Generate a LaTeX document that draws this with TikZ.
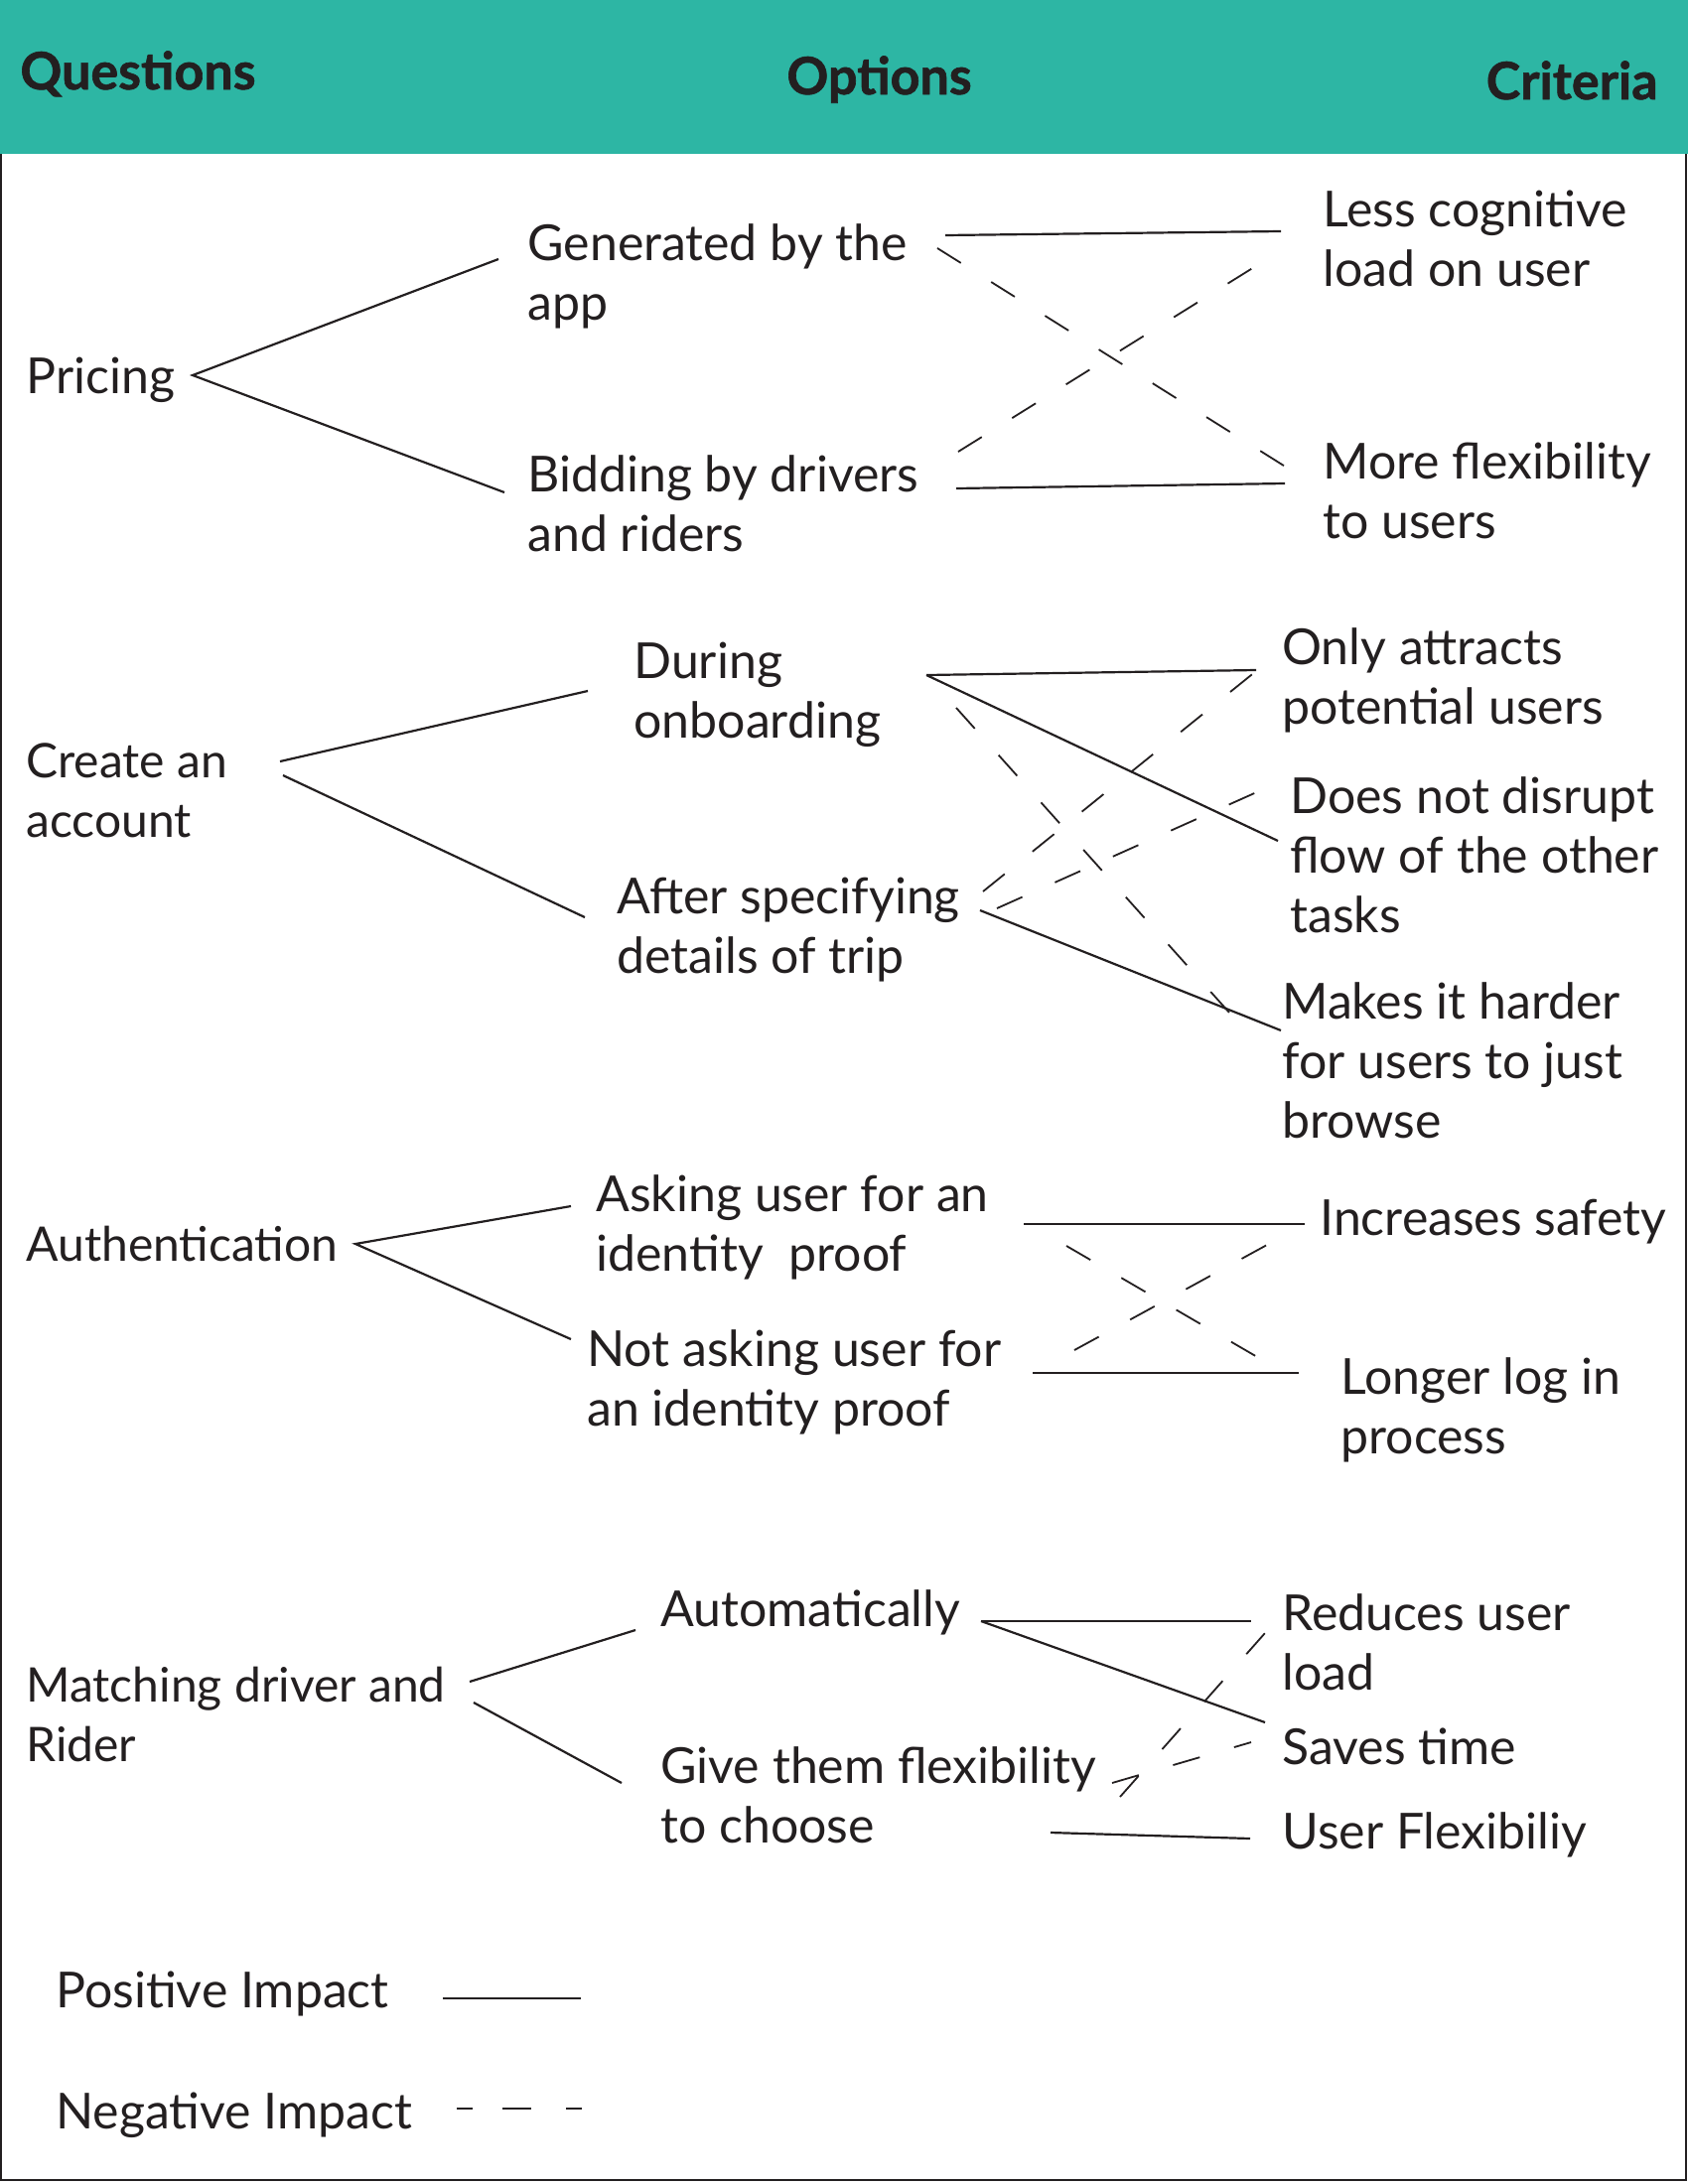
\documentclass[tikz,border=0pt]{standalone}
\usepackage{fontspec}
\setmainfont{Lato}
\newfontfamily\heavyfont{Lato}[BoldFeatures={FakeBold=1.2}]
\definecolor{hdrteal}{RGB}{45,182,164}
\definecolor{ink}{RGB}{35,31,32}
\tikzset{
  txt/.style={anchor=base west, inner sep=0pt, align=left, text=ink,
    font=\fontsize{25}{30}\selectfont},
  qtxt/.style={txt, font=\fontsize{24}{30}\selectfont},
  hdr/.style={anchor=base west, inner sep=0pt, text=ink,
    font=\heavyfont\fontsize{26}{30}\selectfont\bfseries},
  posline/.style={draw=ink, line width=1.1pt},
  negline/.style={draw=ink, line width=0.9pt, dash pattern=on 14pt off 18pt},
}
\begin{document}
\begin{tikzpicture}[x=0.5pt,y=-0.5pt]
\useasboundingbox (0,0) rectangle (1700,2200);
% header band and frame
\fill[hdrteal] (0,0) rectangle (1700,155);
\draw[ink, line width=1pt] (1,155) -- (1,2196) -- (1698,2196) -- (1698,155);
\node[hdr] (qh) at (20,90) {Questions};
\node[hdr] (oh) at (792,95) {Options};
\node[hdr, anchor=base east] (ch) at (1670,100) {Criteria};

% (multi-line nodes: anchor base = baseline of the last line)
% ---------------- Pricing
\node[txt] (pricing) at (26,396) {Pricing};
\node[txt] (gen) at (531,322) {Generated by the\\app};
\node[txt] (bid) at (531,555) {Bidding by drivers\\and riders};
\node[txt] (less) at (1332,288) {Less cognitive\\load on user};
\node[txt] (more) at (1332,542) {More flexibility\\to users};
\coordinate (pv) at (194,378);
\coordinate (gen-in) at (502,261);
\coordinate (bid-in) at (508,496);
\coordinate (gen-out) at (952,237);
\coordinate (less-in) at (1290,233);
\coordinate (bid-out) at (963,492);
\coordinate (more-in) at (1294,487);
\coordinate (gen-d) at (944,250);
\coordinate (more-d) at (1296,471);
\coordinate (bid-d) at (965,455);
\coordinate (less-d) at (1284,256);
\draw[posline] (gen-in) -- (pv) -- (bid-in);
\draw[posline] (gen-out) -- (less-in);
\draw[posline] (bid-out) -- (more-in);
\draw[negline] (gen-d) -- (more-d);
\draw[negline] (bid-d) -- (less-d);

% ---------------- Create an account
\node[qtxt] (create) at (26,843) {Create an\\account};
\node[txt] (during) at (638,743) {During\\onboarding};
\node[txt] (after) at (621,980) {After specifying\\details of trip};
\node[txt] (only) at (1291,729) {Only attracts\\potential users};
\node[txt] (disrupt) at (1299,939) {Does not disrupt\\flow of the other\\tasks};
\node[txt] (harder) at (1291,1146) {Makes it harder\\for users to just\\browse};
\coordinate (cv1) at (282,767);
\coordinate (dur-in) at (592,696);
\coordinate (cv2) at (285,781);
\coordinate (aft-in) at (589,924);
\coordinate (dur-out) at (933,680);
\coordinate (only-in) at (1265,675);
\coordinate (disrupt-in) at (1287,847);
\coordinate (dur-d) at (963,713);
\coordinate (harder-d) at (1247,1030);
\coordinate (aft-d1) at (990,898);
\coordinate (only-d) at (1265,676);
\coordinate (aft-d2) at (1004,915);
\coordinate (disrupt-d) at (1279,792);
\coordinate (aft-out) at (987,917);
\coordinate (harder-in) at (1290,1038);
\draw[posline] (cv1) -- (dur-in);
\draw[posline] (cv2) -- (aft-in);
\draw[posline] (dur-out) -- (only-in);
\draw[posline] (dur-out) -- (disrupt-in);
\draw[negline] (dur-d) -- (harder-d);
\draw[negline] (aft-d1) -- (only-d);
\draw[negline] (aft-d2) -- (disrupt-d);
\draw[posline] (aft-out) -- (harder-in);

% ---------------- Authentication
\node[qtxt] (auth) at (26,1270) {Authentication};
\node[txt] (ask) at (600,1280) {Asking user for an\\identity\ \ proof};
\node[txt] (notask) at (591,1436) {Not asking user for\\an identity proof};
\node[txt] (safety) at (1329,1244) {Increases safety};
\node[txt] (longer) at (1350,1464) {Longer log in\\process};
\coordinate (av) at (358,1253);
\coordinate (ask-in) at (575,1215);
\coordinate (not-in) at (575,1349);
\coordinate (ask-out) at (1031,1233);
\coordinate (safe-in) at (1314,1233);
\coordinate (not-out) at (1040,1383);
\coordinate (long-in) at (1308,1383);
\coordinate (ask-d) at (1074,1255);
\coordinate (long-d) at (1268,1368);
\coordinate (not-d) at (1082,1360);
\coordinate (safe-d) at (1276,1254);
\draw[posline] (ask-in) -- (av) -- (not-in);
\draw[posline] (ask-out) -- (safe-in);
\draw[posline] (not-out) -- (long-in);
\draw[negline] (ask-d) -- (long-d);
\draw[negline] (not-d) -- (safe-d);

% ---------------- Matching driver and Rider
\node[qtxt] (match) at (26,1774) {Matching driver and\\Rider};
\node[txt] (auto) at (665,1638) {Automatically};
\node[txt] (give) at (665,1856) {Give them flexibility\\to choose};
\node[txt] (reduce) at (1291,1702) {Reduces user\\load};
\node[txt] (saves) at (1291,1777) {Saves time};
\node[txt] (uflex) at (1291,1862) {User Flexibiliy};
\coordinate (mv1) at (473,1694);
\coordinate (auto-in) at (640,1642);
\coordinate (mv2) at (477,1715);
\coordinate (give-in) at (626,1796);
\coordinate (auto-out) at (988,1633);
\coordinate (red-in) at (1260,1633);
\coordinate (saves-in) at (1274,1735);
\coordinate (give-d1) at (1128,1810);
\coordinate (red-d) at (1274,1645);
\coordinate (give-d2) at (1120,1796);
\coordinate (saves-d) at (1260,1755);
\coordinate (give-out) at (1058,1846);
\coordinate (uflex-in) at (1259,1852);
\draw[posline] (mv1) -- (auto-in);
\draw[posline] (mv2) -- (give-in);
\draw[posline] (auto-out) -- (red-in);
\draw[posline] (auto-out) -- (saves-in);
\draw[negline] (give-d1) -- (red-d);
\draw[negline] (give-d2) -- (saves-d);
\draw[posline] (give-out) -- (uflex-in);

% ---------------- Legend
\node[txt] (posl) at (56,2022) {Positive Impact};
\node[txt] (negl) at (56,2144) {Negative Impact};
\coordinate (pl1) at (446,2013);
\coordinate (pl2) at (585,2013);
\coordinate (nl1) at (460,2124);
\coordinate (nl2) at (586,2124);
\draw[posline, line width=1.3pt] (pl1) -- (pl2);
\draw[draw=ink, line width=1.3pt, dash pattern=on 8pt off 15pt on 14.5pt off 17.5pt on 8pt] (nl1) -- (nl2);
\end{tikzpicture}
\end{document}
